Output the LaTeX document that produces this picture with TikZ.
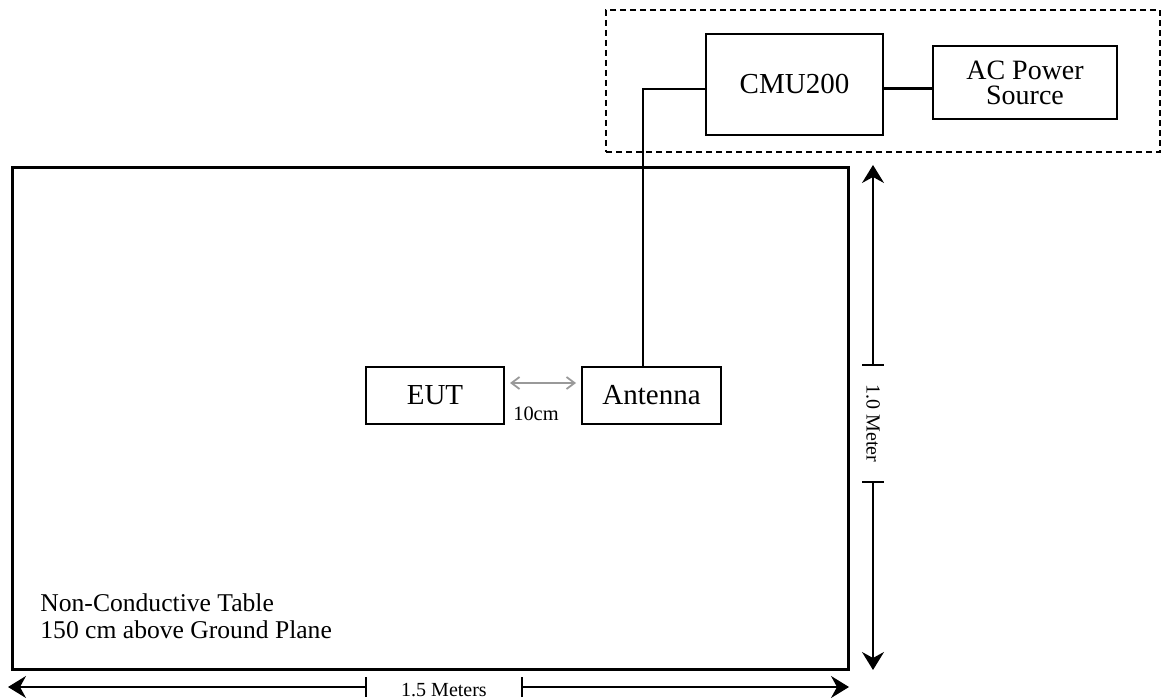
\documentclass[tikz,border=0pt]{standalone}
\usepackage{fontspec}
\setmainfont{Liberation Serif}
\usetikzlibrary{arrows.meta}
\usetikzlibrary{positioning}

\tikzset{
  box/.style={draw, rectangle, line width=1pt, inner sep=0pt, align=center, font=\fontsize{14.5}{16}\selectfont},
  dimline/.style={line width=0.8pt, -{Stealth[length=9pt, width=11pt, inset=3pt]}},
  tick/.style={line width=0.8pt},
  dimlabel/.style={inner sep=0pt, font=\fontsize{10}{12}\selectfont}
}

\begin{document}
\begin{tikzpicture}[x=0.5pt, y=-0.5pt]
            \useasboundingbox (0,0) rectangle (1162,699);
            % table and test set-up
            \node[draw, rectangle, line width=1.5pt, inner sep=0pt, minimum width=418pt, minimum height=251pt] (table) at (430,419) {};
            \node[draw, rectangle, line width=0.8pt, dash pattern=on 3pt off 2pt, inner sep=0pt, minimum width=277pt, minimum height=71pt] (rack) at (883,81) {};
            \node[box, minimum width=88.5pt, minimum height=50.5pt] (cmu) at (794.5,84.5) {CMU200};
            \node[box, minimum width=92pt, minimum height=36.5pt, font=\fontsize{14}{12.5}\selectfont] (ac) at (1025,82.5) {AC Power\\Source};
            \node[box, minimum width=69pt, minimum height=28.5pt] (eut) at (435,395.5) {EUT};
            \node[box, minimum width=69.5pt, minimum height=28.5pt] (ant) at (651.5,395.5) {Antenna};
            \node[anchor=west, inner sep=0pt, align=left, font=\fontsize{12.8}{13.5}\selectfont] (note) at (40,616) {Non-Conductive Table\\150 cm above Ground Plane};
            
            \draw[line width=1.5pt] (cmu.east |- 0,89) -- (ac.west |- 0,89);
            \draw[line width=0.9pt] (cmu.west |- 0,89) -| (ant.north -| 643,0);
            \draw[gray!80, line width=0.9pt, {Straight Barb[length=4pt, width=6pt]}-{Straight Barb[length=4pt, width=6pt]}, shorten <=2.5pt, shorten >=2.5pt] (eut.east |- 0,383) -- (ant.west |- 0,383);
            \node[dimlabel, font=\fontsize{10.2}{12}\selectfont] (gap) at (536,414) {10cm};
            
            % 1.0 meter
            \coordinate (vtop) at (873,365);
            \coordinate (vbot) at (873,482);
            \coordinate (vend1) at (873,165);
            \coordinate (vend2) at (873,670);
            \node[dimlabel, rotate=-90] (vlabel) at (873,423.5) {1.0 Meter};
            \draw[dimline] (vtop) -- (vend1);
            \draw[dimline] (vbot) -- (vend2);
            \draw[tick] ([xshift=-5.5pt]vtop) -- ([xshift=5.5pt]vtop);
            \draw[tick] ([xshift=-5.5pt]vbot) -- ([xshift=5.5pt]vbot);
            
            % 1.5 meters
            \coordinate (hleft) at (366,687);
            \coordinate (hright) at (522,687);
            \coordinate (hend1) at (8,687);
            \coordinate (hend2) at (849,687);
            \node[dimlabel] (hlabel) at (444,690) {1.5 Meters};
            \draw[dimline] (hleft) -- (hend1);
            \draw[dimline] (hright) -- (hend2);
            \draw[tick] ([yshift=-5pt]hleft) -- ([yshift=5pt]hleft);
            \draw[tick] ([yshift=-5pt]hright) -- ([yshift=5pt]hright);
        \end{tikzpicture}
\end{document}
